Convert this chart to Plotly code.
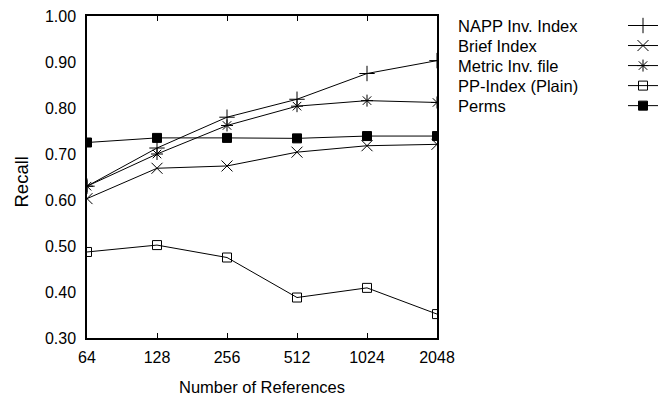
import plotly.graph_objects as go

refs = [64, 128, 256, 512, 1024, 2048]
series_names = ["NAPP Inv. Index", "Brief Index", "Metric Inv. file", "PP-Index (Plain)", "Perms"]
napp = [0.630, 0.713, 0.780, 0.819, 0.875, 0.903]
brief = [0.603, 0.669, 0.674, 0.704, 0.718, 0.721]
metric = [0.630, 0.700, 0.762, 0.804, 0.816, 0.812]
ppindex = [0.487, 0.502, 0.475, 0.388, 0.409, 0.352]
perms = [0.725, 0.735, 0.735, 0.734, 0.739, 0.739]
series_values = [napp, brief, metric, ppindex, perms]
symbols = ["cross-thin-open", "x-thin-open", "asterisk-open", "square-open", "square"]
sizes = [11, 11, 10, 9, 9]
yticks = [0.30, 0.40, 0.50, 0.60, 0.70, 0.80, 0.90, 1.00]

FONT = "Liberation Sans, Arial, sans-serif"

fig = go.Figure()
for name, vals, sym, sz in zip(series_names, series_values, symbols, sizes):
    fig.add_trace(go.Scatter(
        x=refs, y=vals, mode="lines+markers", name="",
        line=dict(color="black", width=1),
        marker=dict(symbol=sym, size=sz, color="black",
                    line=dict(color="black", width=1)),
        hovertext=name,
    ))

L, R, T, B = 87, 224, 16, 62
W, H = 661, 400
pw, ph = W - L - R, H - T - B

# legend labels placed to the left of the legend samples
row_y = [26, 46, 66, 86, 106]
for name, py in zip(series_names, row_y):
    fig.add_annotation(text=name, xref="paper", yref="paper",
                       x=(456 - L) / pw, y=(H - B - py) / ph,
                       xanchor="left", yanchor="middle", showarrow=False,
                       font=dict(family=FONT, size=16.5, color="black"))

# axis titles
fig.add_annotation(text="Number of References", xref="paper", yref="paper",
                   x=0.5, y=(H - B - 387) / ph, xanchor="center", yanchor="middle",
                   showarrow=False, font=dict(family=FONT, size=16.5, color="black"))
fig.add_annotation(text="Recall", xref="paper", yref="paper", textangle=-90,
                   x=(20.5 - L) / pw, y=(H - B - 182) / ph, xanchor="center", yanchor="middle",
                   showarrow=False, font=dict(family=FONT, size=18.5, color="black"))

fig.update_layout(
    width=W, height=H,
    margin=dict(l=L, r=R, t=T, b=B),
    paper_bgcolor="white", plot_bgcolor="white",
    font=dict(family=FONT, size=14, color="black"),
    showlegend=True,
    legend=dict(xref="container", yref="container",
                x=623 / W, y=1 - 10.5 / H, xanchor="left", yanchor="top",
                font=dict(family=FONT, size=13.1), bgcolor="rgba(0,0,0,0)",
                tracegroupgap=0, itemwidth=30),
    xaxis=dict(type="log", range=[1.80618, 3.31133], automargin=False,
               tickvals=refs, ticktext=[str(r) for r in refs],
               ticks="inside", ticklen=5, tickwidth=1, tickcolor="black",
               showline=True, linecolor="black", linewidth=1.5, mirror="ticks",
               showgrid=False, zeroline=False, ticklabelstandoff=4,
               tickfont=dict(family=FONT, size=16)),
    yaxis=dict(range=[0.30, 1.00], automargin=False, tickvals=yticks,
               ticktext=["%.2f" % v for v in yticks],
               ticks="", showline=True, linecolor="black", linewidth=1.5,
               mirror=True, showgrid=False, zeroline=False,
               ticklabelstandoff=6,
               tickfont=dict(family=FONT, size=16)),
)

fig.write_html("out.html")
